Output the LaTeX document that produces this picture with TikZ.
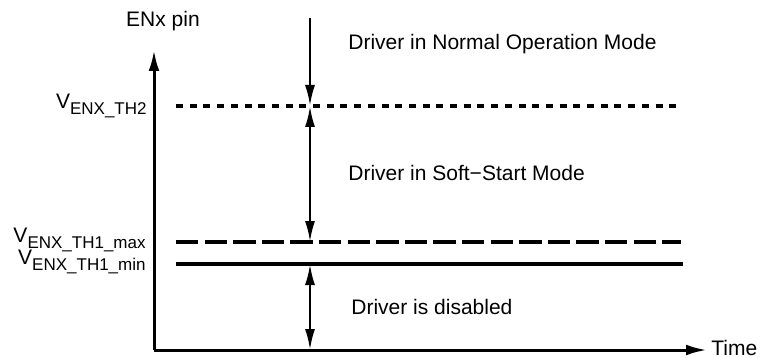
\documentclass[tikz,border=0pt]{standalone}
\usepackage{fontspec}
\setmainfont{Liberation Sans}
\usepackage{tikz}
\usetikzlibrary{arrows.meta,positioning}
\newcommand\vsub[1]{V\raisebox{-0.3em}{\fontsize{8.5}{10}\selectfont #1}}

\begin{document}
\begin{tikzpicture}[x=0.5pt, y=-0.5pt,
        font=\fontsize{10.5}{13}\selectfont,
        axis/.style={line width=1.5pt, -{Latex[length=10.5pt,width=5.4pt]}},
        span/.style={line width=1.2pt, {Latex[length=10.5pt,width=5pt]}-{Latex[length=10.5pt,width=5pt]}},
        thr/.style={line width=1.7pt},
        lvl/.style={anchor=east, inner sep=0pt},
        txt/.style={anchor=west, inner sep=0pt}]
        \useasboundingbox (0,0) rectangle (760,358);
        % axes
        \coordinate (origin) at (154,350);
        \coordinate (ytop) at (154,50);
        \coordinate (xend) at (707,350);
        \draw[axis] (origin) -- (ytop);
        \draw[axis] (origin) -- (xend);
        \node (ylabel) [inner sep=0pt] at (163,21) {ENx pin};
        \node (xlabel) [txt, right=2pt of xend, anchor=base west, text depth=0pt, yshift=-2.8pt] {Time};
        % thresholds
        \coordinate (th2l) at (176,106);
        \coordinate (th2r) at (681,106);
        \coordinate (maxl) at (176,242);
        \coordinate (maxr) at (681,242);
        \coordinate (minl) at (176,264);
        \coordinate (minr) at (683,264);
        \draw[thr, dash pattern=on 3.5pt off 3.35pt] (th2l) -- (th2r);
        \draw[thr, dash pattern=on 11.2pt off 3.1pt] (maxl) -- (maxr);
        \draw[thr] (minl) -- (minr);
        \node (vth2) [lvl] at (147,106) {\vsub{ENX\_TH2}};
        \node (vmax) [lvl] at (146,240) {\vsub{ENX\_TH1\_max}};
        \node (vmin) [lvl] at (146,262) {\vsub{ENX\_TH1\_min}};
        % regions
        \coordinate (top) at (310,18);
        \coordinate (a2) at (310,106);
        \coordinate (a1max) at (310,242);
        \coordinate (a1min) at (310,264);
        \coordinate (bot) at (310,350);
        \draw[line width=1.2pt, -{Latex[length=10.5pt,width=5pt]}] (top) -- (a2);
        \draw[span] (a2) -- (a1max);
        \draw[span] (a1min) -- (bot);
        \node (normal) [txt] at (348,44) {Driver in Normal Operation Mode};
        \node (soft) [txt] at (348,173) {Driver in Soft−Start Mode};
        \node (off) [txt] at (351,307) {Driver is disabled};
\end{tikzpicture}
\end{document}
